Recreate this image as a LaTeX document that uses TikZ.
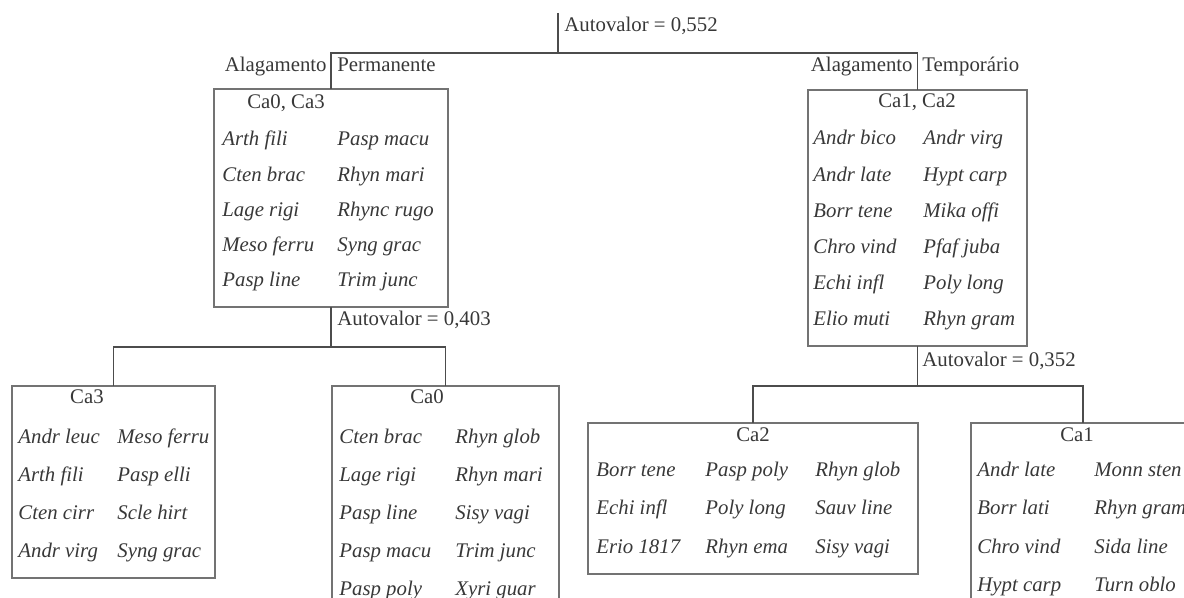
\documentclass[tikz,border=0pt]{standalone}
\usepackage{fontspec}
\setmainfont{Liberation Serif}
\usepackage{tikz}
\definecolor{inkgray}{gray}{0.22}
\definecolor{linkgray}{gray}{0.3}
\definecolor{framegray}{gray}{0.45}
\tikzset{
  grp/.style={draw=framegray, line width=0.6pt, inner sep=0pt, outer sep=0pt},
  ttl/.style={inner sep=0pt, text=inkgray, font=\fontsize{10.4pt}{12pt}\selectfont, text height=6pt, text depth=2pt},
  spp/.style={ttl, anchor=west, font=\fontsize{10.4pt}{12pt}\selectfont\itshape},
  link/.style={draw=linkgray, line width=0.85pt}
}

\begin{document}
\begin{tikzpicture}[x=0.5pt, y=-0.5pt]
        \useasboundingbox (0,0) rectangle (1184,598);
        \clip (0,0) rectangle (1184,598);

        % Draw the group boxes
        \node[grp, minimum width=117pt, minimum height=109pt] (ca03) at (331,198) {};
        \node[grp, minimum width=109.5pt, minimum height=128pt] (ca12) at (917.5,218) {};
        \node[grp, minimum width=101.5pt, minimum height=96pt] (ca3) at (113.5,482) {};
        \node[grp, minimum width=113.5pt, minimum height=117pt] (ca0) at (445.5,503) {};
        \node[grp, minimum width=165pt, minimum height=75.5pt] (ca2) at (753,498.5) {};
        \node[grp, minimum width=112pt, minimum height=98.5pt] (ca1) at (1083,521.5) {};

        % Draw the split lines
        \coordinate (root) at (558,13);
        \coordinate (split1) at (558,53);
        \coordinate (split2) at (331,347);
        \coordinate (split3) at (917.5,386);
        \draw[link] (root) -- (split1);
        \draw[link] (ca03.north) |- (split1) -| (ca12.north);
        \draw[link] (ca03.south) -- (split2);
        \draw[link] (ca3.north) |- (split2) -| (ca0.north);
        \draw[link] (ca12.south) -- (split3);
        \draw[link] (ca2.north) |- (split3) -| (ca1.north);

        % Eigenvalues and flooding labels
        \node[ttl, anchor=west] (ev1) at (564,28) {Autovalor = 0,552};
        \node[ttl, anchor=west] (ev2) at (337,322) {Autovalor = 0,403};
        \node[ttl, anchor=west] (ev3) at (922,363) {Autovalor = 0,352};
        \node[ttl, anchor=east] (alagP) at (327,68) {Alagamento};
        \node[ttl, anchor=west] (perm) at (337,68) {Permanente};
        \node[ttl, anchor=east] (alagT) at (913,68) {Alagamento};
        \node[ttl, anchor=west] (temp) at (922,68) {Temporário};

        % Group titles
        \node[ttl] (t03) at (286,105) {Ca0, Ca3};
        \node[ttl] (t12) at (917,104) {Ca1, Ca2};
        \node[ttl] (t3) at (87,400) {Ca3};
        \node[ttl] (t0) at (427,400) {Ca0};
        \node[ttl] (t2) at (753,438) {Ca2};
        \node[ttl] (t1) at (1077,438) {Ca1};

        % Species lists
        \foreach \sp [count=\i] in {Arth fili, Cten brac, Lage rigi, Meso ferru, Pasp line}
          \node[spp] (ca03a\i) at (222,{142+35.25*(\i-1)}) {\sp};
        \foreach \sp [count=\i] in {Pasp macu, Rhyn mari, Rhync rugo, Syng grac, Trim junc}
          \node[spp] (ca03b\i) at (337,{142+35.25*(\i-1)}) {\sp};
        \foreach \sp [count=\i] in {Andr bico, Andr late, Borr tene, Chro vind, Echi infl, Elio muti}
          \node[spp] (ca12a\i) at (813,{141+36.1*(\i-1)}) {\sp};
        \foreach \sp [count=\i] in {Andr virg, Hypt carp, Mika offi, Pfaf juba, Poly long, Rhyn gram}
          \node[spp] (ca12b\i) at (923,{141+36.1*(\i-1)}) {\sp};
        \foreach \sp [count=\i] in {Andr leuc, Arth fili, Cten cirr, Andr virg}
          \node[spp] (ca3a\i) at (18,{440+38*(\i-1)}) {\sp};
        \foreach \sp [count=\i] in {Meso ferru, Pasp elli, Scle hirt, Syng grac}
          \node[spp] (ca3b\i) at (117,{440+38*(\i-1)}) {\sp};
        \foreach \sp [count=\i] in {Cten brac, Lage rigi, Pasp line, Pasp macu, Pasp poly}
          \node[spp] (ca0a\i) at (339,{440+38*(\i-1)}) {\sp};
        \foreach \sp [count=\i] in {Rhyn glob, Rhyn mari, Sisy vagi, Trim junc, Xyri guar}
          \node[spp] (ca0b\i) at (455,{440+38*(\i-1)}) {\sp};
        \foreach \sp [count=\i] in {Borr tene, Echi infl, Erio 1817}
          \node[spp] (ca2a\i) at (596,{473+38*(\i-1)}) {\sp};
        \foreach \sp [count=\i] in {Pasp poly, Poly long, Rhyn ema}
          \node[spp] (ca2b\i) at (705,{473+38*(\i-1)}) {\sp};
        \foreach \sp [count=\i] in {Rhyn glob, Sauv line, Sisy vagi}
          \node[spp] (ca2c\i) at (815,{473+38*(\i-1)}) {\sp};
        \foreach \sp [count=\i] in {Andr late, Borr lati, Chro vind, Hypt carp}
          \node[spp] (ca1a\i) at (977,{473+38*(\i-1)}) {\sp};
        \foreach \sp [count=\i] in {Monn sten, Rhyn gram, Sida line, Turn oblo}
          \node[spp] (ca1b\i) at (1094,{473+38*(\i-1)}) {\sp};
    \end{tikzpicture}
\end{document}
